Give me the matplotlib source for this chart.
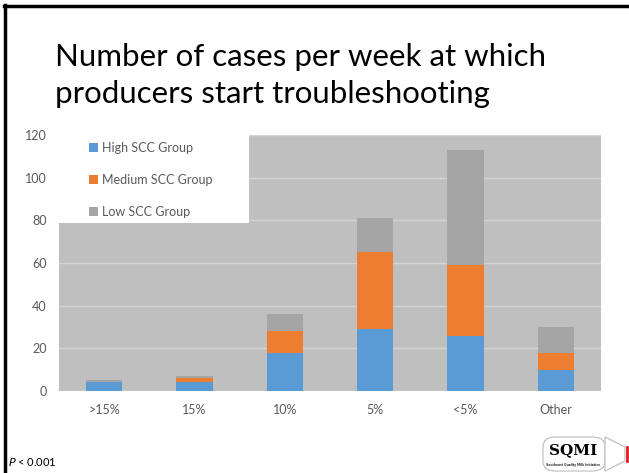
import matplotlib
matplotlib.use("Agg")
import matplotlib.pyplot as plt
from matplotlib.patches import Rectangle, FancyBboxPatch, Polygon
from matplotlib.lines import Line2D

categories = [">15%", "15%", "10%", "5%", "<5%", "Other"]
high = [4, 4, 18, 29, 26, 10]
medium = [0, 2, 10, 36, 33, 8]
low = [1, 1, 8, 16, 54, 12]
series_names = ["High SCC Group", "Medium SCC Group", "Low SCC Group"]
colors = ["#5B9BD5", "#ED7D31", "#A5A5A5"]
yticks = [0, 20, 40, 60, 80, 100, 120]

W, H = 629, 473
fig = plt.figure(figsize=(W / 100, H / 100), dpi=100)
fig.patch.set_facecolor("white")
font = "Lato"

ax = fig.add_axes([59 / W, 1 - 391 / H, (601 - 59) / W, (391 - 135) / H])
ax.set_facecolor("#BFBFBF")
for s in ax.spines.values():
    s.set_visible(False)

x = list(range(len(categories)))
bottom2 = [a + b for a, b in zip(high, medium)]
b1 = ax.bar(x, high, width=0.4, color=colors[0], zorder=3, label=series_names[0])
b2 = ax.bar(x, medium, width=0.4, bottom=high, color=colors[1], zorder=3, label=series_names[1])
b3 = ax.bar(x, low, width=0.4, bottom=bottom2, color=colors[2], zorder=3, label=series_names[2])

ax.set_xlim(-0.5, len(categories) - 0.5)
ax.set_ylim(0, 120)
ax.set_yticks(yticks)
ax.set_xticks(x)
ax.set_xticklabels(categories)
ax.yaxis.grid(True, color="#D4D4D4", linewidth=1.0, zorder=1)
ax.set_axisbelow(True)
ax.tick_params(axis="both", length=0, labelsize=9, labelcolor="#595959")
ax.tick_params(axis="y", pad=9)
ax.tick_params(axis="x", pad=9)
for lab in ax.get_xticklabels() + ax.get_yticklabels():
    lab.set_fontfamily(font)

# white legend box area
ax.add_patch(Rectangle((-0.5, 78.8), 2.1, 41.2, facecolor="white", edgecolor="none", zorder=2))
leg = ax.legend(handles=[b1, b2, b3], loc="upper left", bbox_to_anchor=(0.035, 1.018),
                frameon=False, labelspacing=1.6, handlelength=0.7,
                handleheight=0.7, handletextpad=0.35, prop={"family": font, "size": 9})
for t in leg.get_texts():
    t.set_color("#595959")

# title
fig.text(55 / W, 1 - 43 / H, "Number of cases per week at which\nproducers start troubleshooting",
         fontsize=22.5, family=font, color="black", ha="left", va="top", linespacing=1.4)

# footer
fig.text(8 / W, 1 - 462 / H, "$P$ < 0.001", fontsize=8, family=font, color="black",
         ha="left", va="center")

# slide borders
fig.add_artist(Line2D([4 / W, 1], [1 - 6 / H, 1 - 6 / H], color="black", linewidth=2.5))
fig.add_artist(Line2D([5 / W, 5 / W], [0, 1 - 5 / H], color="black", linewidth=2.5))

# SQMI logo (approximate)
bx0, by0, bw, bh = 543, 437, 62, 34
fig.add_artist(FancyBboxPatch((bx0 / W, 1 - (by0 + bh) / H), bw / W, bh / H,
                              boxstyle="round,pad=0.0,rounding_size=0.02",
                              facecolor="white", edgecolor="#BBBBBB", linewidth=0.8,
                              transform=fig.transFigure))
fig.add_artist(Polygon([[(bx0 + bw) / W, 1 - by0 / H], [625 / W, 1 - 447 / H],
                        [625 / W, 1 - 461 / H], [(bx0 + bw) / W, 1 - (by0 + bh) / H]],
                       closed=True, facecolor="white", edgecolor="#BBBBBB", linewidth=0.8,
                       transform=fig.transFigure))
fig.add_artist(Line2D([627 / W, 627 / W], [1 - 447 / H, 1 - 461 / H], color="#E02020", linewidth=2))
fig.text(573 / W, 1 - 450 / H, "SQMI", fontsize=11, family="DejaVu Serif", weight="bold",
         color="black", ha="center", va="center")
fig.text(573 / W, 1 - 465 / H, "Southeast Quality Milk Initiative", fontsize=2.2,
         family="DejaVu Sans", weight="bold", color="#333333", ha="center", va="center")

fig.savefig("out.png", dpi=100, facecolor="white")
